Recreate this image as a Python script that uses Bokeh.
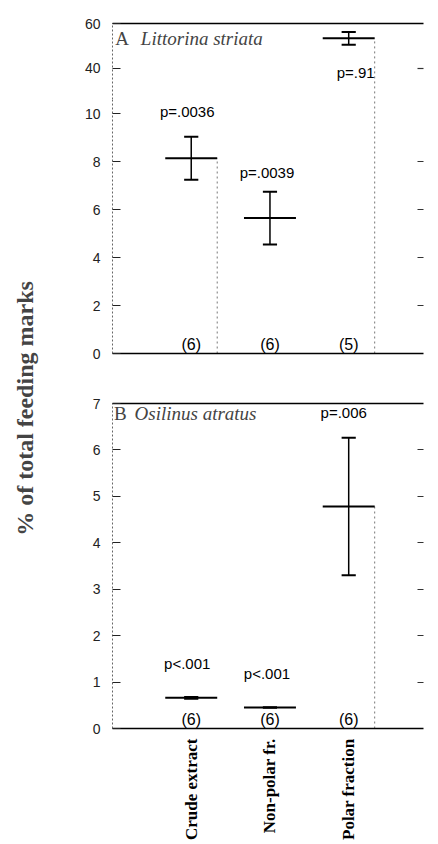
import math
from bokeh.plotting import figure
from bokeh.models import (FixedTicker, LinearAxis, Range1d, Label, ColumnDataSource,
                          CustomLabelingPolicy)
from bokeh.layouts import row, column
from bokeh.core.properties import value
from bokeh.embed import file_html
from bokeh.resources import INLINE

# ---------------- data ----------------
categories = ["Crude extract", "Non-polar fr.", "Polar fraction"]

# Panel A: Littorina striata (mean, error)
a_mean = [8.15, 5.65, 53.4]
a_err = [0.9, 1.1, 2.8]
a_n = ["(6)", "(6)", "(5)"]
a_p = ["p=.0036", "p=.0039", "p=.91"]

# Panel B: Osilinus atratus
b_mean = [0.66, 0.45, 4.78]
b_err = [0.02, 0.0, 1.48]
b_n = ["(6)", "(6)", "(6)"]
b_p = ["p<.001", "p<.001", "p=.006"]

a_ticks_low = [0, 2, 4, 6, 8, 10]
a_ticks_high = [40, 60]
b_ticks = [0, 1, 2, 3, 4, 5, 6, 7]

# ---------------- layout / style ----------------
XR = (0, 3.95)
HALF = 0.33
CAP = 0.09
TICK_FONT = "Liberation Sans"
SERIF = "Liberation Serif"
FIG_W = 390

# label placement (screen px offsets relative to error-bar ends)
a_p_below = [False, False, True]
a_p_xoff = [-4, -3, 7]
a_p_yoff = [-25, -19, 28]
b_p_xoff = [-4, -3, -5]
b_p_yoff = [-33, -34, -25]
a_edge = [True, False, True]
b_edge = [False, False, True]

NO_LABELS = CustomLabelingPolicy(code="return new Set()")


def make_fig(height, yr, top, bottom):
    p = figure(width=FIG_W, height=height, x_range=Range1d(*XR), y_range=Range1d(*yr),
               output_backend="svg", toolbar_location=None,
               min_border_left=64, min_border_right=2,
               min_border_top=top, min_border_bottom=bottom,
               x_axis_location=None, y_axis_location=None)
    p.outline_line_color = None
    p.xgrid.grid_line_color = None
    p.ygrid.grid_line_color = None
    p.background_fill_color = "white"
    p.border_fill_color = "white"
    return p


def left_axis(ticks):
    return LinearAxis(ticker=FixedTicker(ticks=ticks), major_tick_in=8, major_tick_out=0,
                      minor_tick_line_color=None, axis_line_color="#666",
                      axis_line_dash="2 2", major_tick_line_color="#222",
                      major_tick_line_width=1.2, major_label_standoff=12,
                      major_label_text_font=TICK_FONT, major_label_text_font_size="14px",
                      major_label_text_color="#222")


def right_axis(ticks):
    return LinearAxis(ticker=FixedTicker(ticks=ticks), major_tick_in=6, major_tick_out=0,
                      minor_tick_line_color=None, axis_line_color=None,
                      major_tick_line_color="#333", major_tick_line_width=1.2,
                      major_label_standoff=0, major_label_policy=NO_LABELS)


def line_axis(width=1.5):
    return LinearAxis(ticker=FixedTicker(ticks=[]), major_tick_in=0, major_tick_out=0,
                      minor_tick_line_color=None, axis_line_color="black",
                      axis_line_width=width, major_label_standoff=0,
                      major_label_policy=NO_LABELS)


def draw_panel(p, yr, mean, err, n, ptxt, p_below, pxo, pyo, edge):
    xs = list(range(1, len(mean) + 1))
    hi = [m + e for m, e in zip(mean, err)]
    lo = [m - e for m, e in zip(mean, err)]
    anchor = [l if b else h for l, h, b in zip(lo, hi, p_below)]
    src = ColumnDataSource(dict(
        x=xs, mean=mean, hi=hi, lo=lo,
        left=[x - HALF for x in xs], right=[x + HALF for x in xs],
        capl=[x - CAP for x in xs], capr=[x + CAP for x in xs]))
    esrc = ColumnDataSource(dict(
        x=[x + HALF for x, e in zip(xs, edge) if e],
        y1=[m for m, e in zip(mean, edge) if e],
        y0=[0 for e in edge if e]))
    p.segment(x0="x", y0="y0", x1="x", y1="y1", source=esrc,
              line_color="#777", line_width=1, line_dash="2 3")
    p.segment(x0="x", y0="lo", x1="x", y1="hi", source=src, line_color="black", line_width=1.5)
    p.segment(x0="capl", y0="hi", x1="capr", y1="hi", source=src, line_color="black", line_width=2)
    p.segment(x0="capl", y0="lo", x1="capr", y1="lo", source=src, line_color="black", line_width=2)
    p.segment(x0="left", y0="mean", x1="right", y1="mean", source=src, line_color="black", line_width=2)

    # p-value labels: only those whose anchor lies in this figure's range
    keep = [i for i, a in enumerate(anchor) if yr[0] <= a <= yr[1]]
    if keep:
        tsrc = ColumnDataSource(dict(x=[xs[i] for i in keep], y=[anchor[i] for i in keep],
                                     p=[ptxt[i] for i in keep], pxo=[pxo[i] for i in keep],
                                     pyo=[pyo[i] for i in keep]))
        p.text(x="x", y="y", text="p", x_offset="pxo", y_offset="pyo", source=tsrc,
               text_align="center", text_baseline="middle", text_font=value(TICK_FONT),
               text_font_size="15px", text_color="black")
    if yr[0] <= 0:
        nsrc = ColumnDataSource(dict(x=xs, y=[0] * len(xs), n=n))
        p.text(x="x", y="y", text="n", y_offset=-1, source=nsrc,
               text_align="center", text_baseline="bottom", text_font=value(TICK_FONT),
               text_font_size="16px", text_color="black")


# Panel A, upper part of the broken axis
YA_TOP = (26.2, 60)
pa_top = make_fig(99, YA_TOP, 23, 0)
pa_top.add_layout(left_axis(a_ticks_high), "left")
pa_top.add_layout(right_axis([40]), "right")
pa_top.add_layout(line_axis(), "above")
draw_panel(pa_top, YA_TOP, a_mean, a_err, a_n, a_p, a_p_below, a_p_xoff, a_p_yoff, a_edge)
pa_top.add_layout(Label(x=0.035, y=53.3, text="A", text_baseline="middle",
                        text_font=SERIF, text_font_size="19px"))
pa_top.add_layout(Label(x=0.36, y=53.3, text="Littorina striata", text_baseline="middle",
                        text_font=SERIF, text_font_style="italic", text_font_size="19px"))

# Panel A, lower part
YA_BOT = (0, 10.6)
pa_bot = make_fig(294, YA_BOT, 0, 40)
pa_bot.add_layout(left_axis(a_ticks_low), "left")
pa_bot.add_layout(right_axis([2, 4, 6, 8]), "right")
pa_bot.add_layout(line_axis(), "below")
draw_panel(pa_bot, YA_BOT, a_mean, a_err, a_n, a_p, a_p_below, a_p_xoff, a_p_yoff, a_edge)

# Panel B
YB = (0, 7)
pb = make_fig(449, YB, 10, 112)
pb.add_layout(left_axis(b_ticks), "left")
pb.add_layout(right_axis([1, 2, 3, 4, 5, 6]), "right")
pb.add_layout(line_axis(), "above")
xax = LinearAxis(ticker=FixedTicker(ticks=[1, 2, 3]),
                 major_label_overrides={i + 1: c for i, c in enumerate(categories)},
                 major_label_orientation=math.pi / 2, major_tick_in=0, major_tick_out=0,
                 minor_tick_line_color=None, axis_line_color="black", axis_line_width=1.5,
                 major_label_standoff=10, major_label_text_font=SERIF,
                 major_label_text_font_style="bold", major_label_text_font_size="17px",
                 major_label_text_color="black")
pb.add_layout(xax, "below")
draw_panel(pb, YB, b_mean, b_err, b_n, b_p, [False, False, False], b_p_xoff, b_p_yoff, b_edge)
pb.add_layout(Label(x=0.02, y=6.79, text="B", text_baseline="middle",
                    text_font=SERIF, text_font_size="19px"))
pb.add_layout(Label(x=0.28, y=6.79, text="Osilinus atratus", text_baseline="middle",
                    text_font=SERIF, text_font_style="italic", text_font_size="19px"))

# y-axis title column
TOTAL_H = 99 + 294 + 449
ylab = figure(width=48, height=TOTAL_H, x_range=Range1d(0, 1), y_range=Range1d(0, TOTAL_H),
              output_backend="svg", toolbar_location=None, min_border=0,
              x_axis_location=None, y_axis_location=None)
ylab.outline_line_color = None
ylab.xgrid.grid_line_color = None
ylab.ygrid.grid_line_color = None
ylab.add_layout(Label(x=0.5, y=TOTAL_H - 408, text="% of total feeding marks", angle=math.pi / 2,
                      text_align="center", text_baseline="middle", text_font=SERIF,
                      text_font_style="bold", text_font_size="24px"))

layout = row(ylab, column(pa_top, pa_bot, pb))
open("out.html", "w").write(file_html(layout, INLINE))
